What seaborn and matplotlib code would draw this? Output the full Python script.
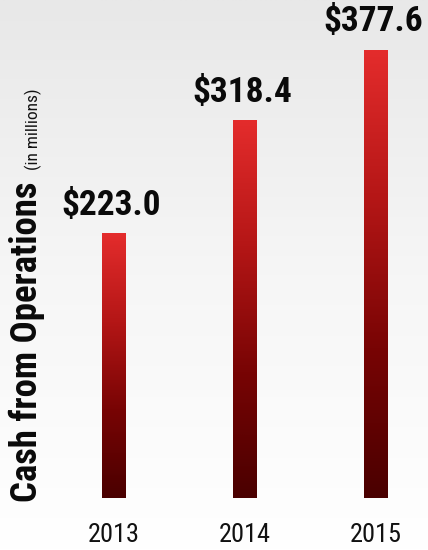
import numpy as np
import pandas as pd
import matplotlib
matplotlib.use('Agg')
import matplotlib.pyplot as plt
import seaborn as sns
from matplotlib.colors import LinearSegmentedColormap

years = ['2013', '2014', '2015']
cash = [223.0, 318.4, 377.6]
value_labels = ['$223.0', '$318.4', '$377.6']
ylabel_main = 'Cash from Operations'
ylabel_unit = '(in millions)'

sns.set_theme(style='white')
plt.rcParams['font.family'] = ['Roboto Condensed', 'Liberation Sans', 'DejaVu Sans']

W, H = 428, 550
fig = plt.figure(figsize=(W / 100, H / 100), dpi=100)

# background gradient
bg = fig.add_axes([0, 0, 1, 1])
bg.axis('off')
grad = np.linspace(0, 1, 256).reshape(-1, 1)
bg_cmap = LinearSegmentedColormap.from_list('bg', ['#e8e8e8', '#f6f6f6', '#ffffff'])
bg.imshow(grad, aspect='auto', cmap=bg_cmap, extent=[0, 1, 0, 1], origin='upper')

ax = fig.add_axes([0, 52 / H, 1, 498 / H])
ax.patch.set_alpha(0)
df = pd.DataFrame({'year': years, 'cash': cash})
sns.barplot(data=df, x='year', y='cash', ax=ax, width=0.183, color='#c00000',
            saturation=1, errorbar=None)

bar_cmap = LinearSegmentedColormap.from_list('bar', ['#4a0000', '#780404', '#b41616', '#e42c2c'])
bgrad = np.linspace(1, 0, 256).reshape(-1, 1)
for patch, lab in zip(ax.patches, value_labels):
    x0, w, h = patch.get_x(), patch.get_width(), patch.get_height()
    patch.set_facecolor('none')
    patch.set_edgecolor('none')
    ax.imshow(bgrad, aspect='auto', cmap=bar_cmap, extent=[x0, x0 + w, 0, h],
              origin='upper', zorder=2)
    ax.text(x0 + w / 2 - 0.02, h + 10, lab, ha='center', va='bottom', fontsize=25.5,
            fontweight='bold', color='#0a0a0a')

ax.set_xlim(-0.870, 2.397)
ax.set_ylim(0, 420)
ax.set_yticks([])
ax.set_xlabel('')
ax.set_ylabel('')
ax.tick_params(axis='x', length=0, pad=18, labelsize=19, labelcolor='#111111')
for s in ax.spines.values():
    s.set_visible(False)

t1 = fig.text(37 / W, 48 / H, ylabel_main, rotation=90, rotation_mode='anchor',
              ha='left', va='baseline', fontsize=26.5, fontweight='bold', color='#0a0a0a')
fig.canvas.draw()
bb = t1.get_window_extent()
fig.text(38 / W, (bb.y1 + 12) / H, ylabel_unit, rotation=90, rotation_mode='anchor',
         ha='left', va='baseline', fontsize=12.5, color='#111111')

fig.savefig('out.png', dpi=100)
